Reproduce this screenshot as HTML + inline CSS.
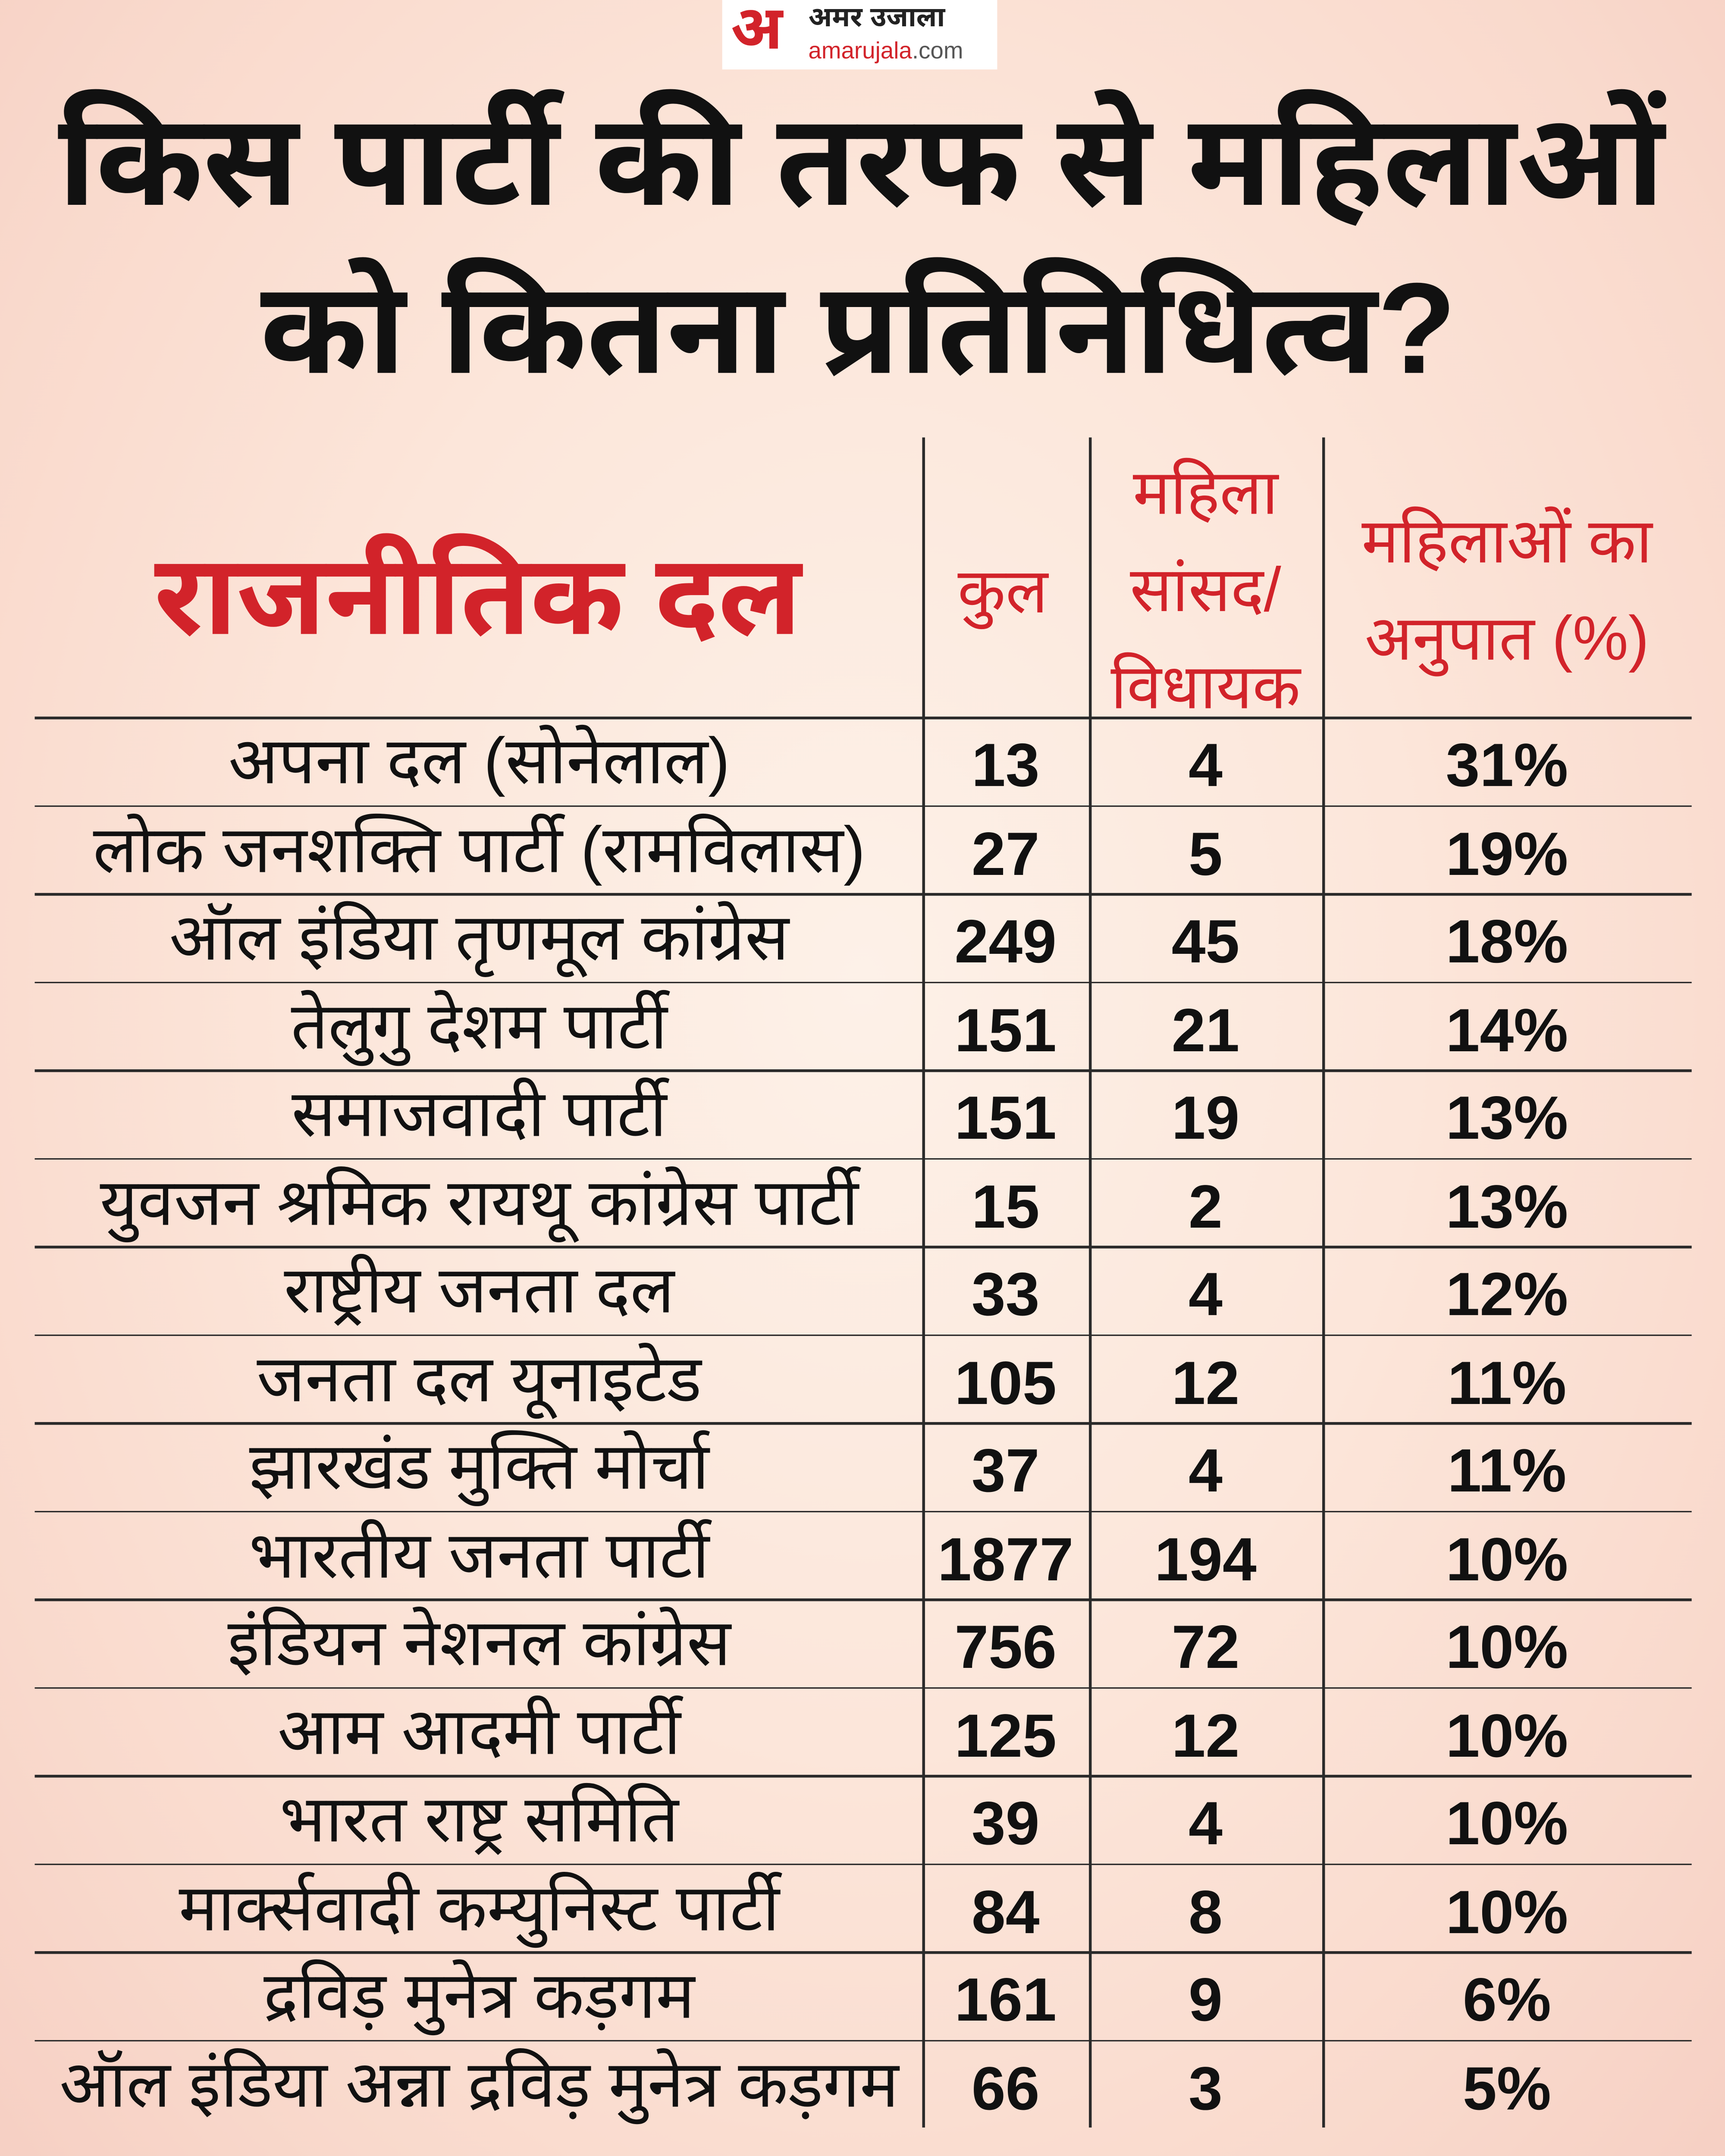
<!DOCTYPE html>
<html><head><meta charset="utf-8">
<style>
html,body{margin:0;padding:0;width:4000px;height:5050px;overflow:hidden;}
body{background:radial-gradient(ellipse at 50% 45%,#fdf1e8 0%,#fce6da 45%,#f9d9cc 80%,#f6cfc3 100%);font-family:"Liberation Sans","Noto Sans Devanagari","Lohit Devanagari",sans-serif;}
#stage{position:absolute;left:0;top:0;width:1242px;height:1560px;overflow:hidden;transform:scale(3.2206);transform-origin:0 0;}
.abs{position:absolute;}
.t{position:absolute;white-space:nowrap;text-align:center;transform:translate(-50%,-50%);}
.red{color:#d2232a;}
.hl{position:absolute;height:1.5px;background:#2a2a2a;left:25px;width:1193px;}
.vl{position:absolute;width:1.5px;background:#2a2a2a;top:315px;height:1217px;}
</style></head><body>
<div id="stage">
  <div class="abs" style="left:520px;top:0;width:198px;height:50px;background:#fff;">
    <div class="abs red" style="left:6px;top:-4px;font-size:44px;font-weight:bold;">अ</div>
    <div class="abs" style="left:62px;top:2px;font-size:20px;font-weight:bold;color:#222;">अमर उजाला</div>
    <div class="abs red" style="left:62px;top:27px;font-size:17px;">amarujala<span style="color:#555">.com</span></div>
  </div>
  <div class="t" style="left:620px;top:124px;font-size:93px;font-weight:bold;color:#111;">किस पार्टी की तरफ से महिलाओं</div>
  <div class="t" style="left:618px;top:245px;font-size:93px;font-weight:bold;color:#111;">को कितना प्रतिनिधित्व?</div>

  <div class="t red" style="left:344px;top:437px;font-size:81px;font-weight:bold;">राजनीतिक दल</div>
  <div class="t red" style="left:722px;top:430px;font-size:45px;">कुल</div>
  <div class="t red" style="left:868px;top:425px;font-size:45px;line-height:70px;">महिला<br>सांसद/<br>विधायक</div>
  <div class="t red" style="left:1085px;top:425px;font-size:45px;line-height:70px;">महिलाओं का<br>अनुपात (%)</div>

  <div class="vl" style="left:664px"></div>
  <div class="vl" style="left:784px"></div>
  <div class="vl" style="left:952px"></div>
</div>
<script>
const parties=["अपना दल (सोनेलाल)","लोक जनशक्ति पार्टी (रामविलास)","ऑल इंडिया तृणमूल कांग्रेस","तेलुगु देशम पार्टी","समाजवादी पार्टी","युवजन श्रमिक रायथू कांग्रेस पार्टी","राष्ट्रीय जनता दल","जनता दल यूनाइटेड","झारखंड मुक्ति मोर्चा","भारतीय जनता पार्टी","इंडियन नेशनल कांग्रेस","आम आदमी पार्टी","भारत राष्ट्र समिति","मार्क्सवादी कम्युनिस्ट पार्टी","द्रविड़ मुनेत्र कड़गम","ऑल इंडिया अन्ना द्रविड़ मुनेत्र कड़गम"];
const totals=[13,27,249,151,151,15,33,105,37,1877,756,125,39,84,161,66];
const women=[4,5,45,21,19,2,4,12,4,194,72,12,4,8,9,3];
const ratios=["31%","19%","18%","14%","13%","13%","12%","11%","11%","10%","10%","10%","10%","10%","6%","5%"];
const stage=document.getElementById('stage');
const top0=516,pitch=63.53;
function rowY(i){return top0+pitch*i;}
for(let i=0;i<parties.length;i++){
  const l=document.createElement('div');
  l.className='hl';l.style.top=rowY(i)+'px';
  
  
  stage.appendChild(l);
  const cy=rowY(i)+36;
  const cells=[[parties[i],345,47,'normal'],[totals[i],724,44,'bold'],[women[i],868,44,'bold'],[ratios[i],1085,44,'bold']];
  const names=['party-name','total-count','women-count','women-ratio'];
  cells.forEach((c,j)=>{
    const d=document.createElement('div');
    d.className='t';d.textContent=c[0];
    d.style.left=c[1]+'px';d.style.top=cy+'px';d.style.fontSize=c[2]+'px';d.style.fontWeight=c[3];d.style.color='#111';
    
    
    stage.appendChild(d);
  });
}
</script>
</body></html>
